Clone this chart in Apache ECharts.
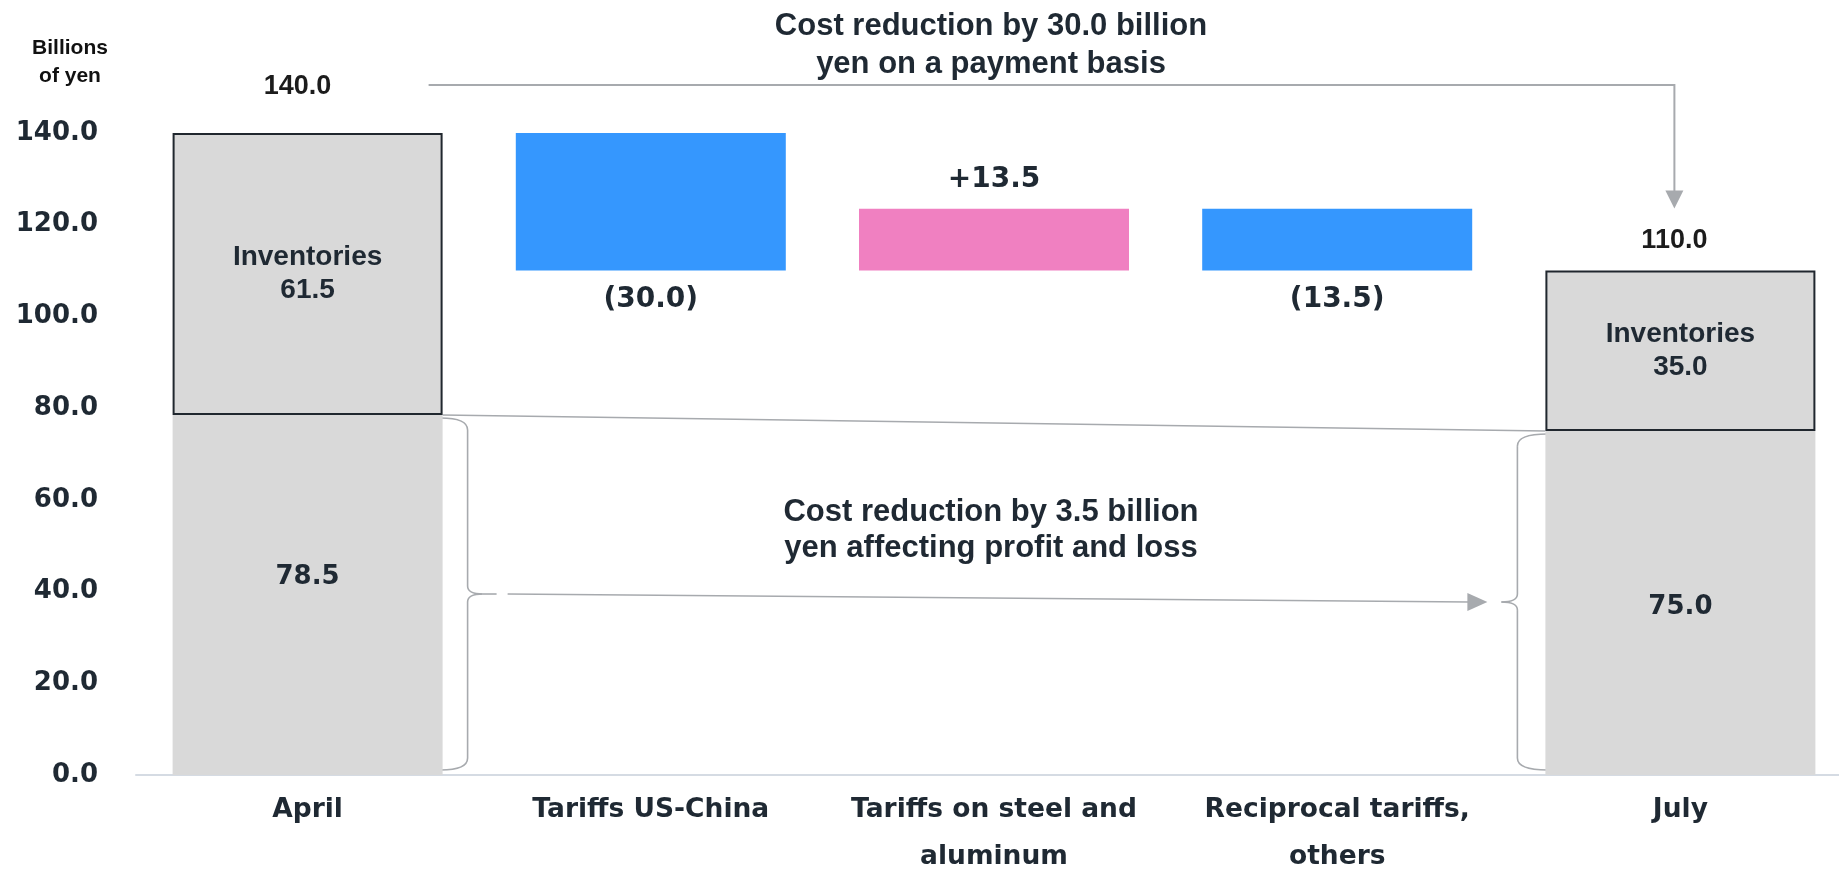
<!DOCTYPE html>
<html><head><meta charset="utf-8">
<script src="https://cdn.jsdelivr.net/npm/echarts@6/dist/echarts.min.js"></script>
<style>html,body{margin:0;padding:0;background:#fff}#c{width:1839px;height:875px}</style>
</head><body><div id="c"></div>
<script>
// ---- data ----
const categories = ['April', 'Tariffs US-China', 'Tariffs on steel and\naluminum', 'Reciprocal tariffs,\nothers', 'July'];
const yTickMin = 0, yTickMax = 140, yTickStep = 20;
const costPart = [78.5, null, null, null, 75.0];      // lower grey part
const inventories = [61.5, null, null, null, 35.0];   // boxed grey part
const changes = [null, -30.0, 13.5, -13.5, null];     // tariff effects
const totals = [140.0, null, null, null, 110.0];
const inventoryLabel = 'Inventories';
const unitLabel = 'Billions\nof yen';
const notePayment = 'Cost reduction by 30.0 billion\nyen on a payment basis';
const notePL = 'Cost reduction by 3.5 billion\nyen affecting profit and loss';

// ---- waterfall helpers ----
let running = totals[0];
const baseVals = [], decVals = [], incVals = [];
changes.forEach(c => {
  if (c == null) { baseVals.push(null); decVals.push(null); incVals.push(null); return; }
  if (c < 0) { running += c; baseVals.push(running); decVals.push(-c); incVals.push(null); }
  else { baseVals.push(running); incVals.push(c); decVals.push(null); running += c; }
});

const VER = "'DejaVu Sans', Verdana, sans-serif";
const ARI = "'Liberation Sans', Arial, sans-serif";
const TXT = '#1f2933';
const GREY = '#d9d9d9';
const LINE = '#a7aaae';
const BW = 270;

const totalLabelStyle = (dist, dx) => ({ show: true, position: 'top', distance: dist, offset: [dx, 0],
  formatter: p => '{t|' + p.value.toFixed(1) + '}',
  rich: { t: { fontFamily: ARI, fontWeight: 'bold', fontSize: 27, color: '#1c1c1c' } } });

const chart = echarts.init(document.getElementById('c'));
chart.setOption({
  animation: false,
  backgroundColor: '#fff',
  grid: { left: 136, top: 133, width: 1716, height: 642, containLabel: false, outerBoundsMode: 'none' },
  xAxis: {
    type: 'category', data: categories,
    axisLine: { lineStyle: { color: '#d5dbe3', width: 2 } },
    axisTick: { show: false },
    axisLabel: { interval: 0, margin: 12, fontFamily: VER, fontWeight: 'bold', fontSize: 26.5, lineHeight: 47, color: TXT, align: 'center', verticalAlign: 'top' }
  },
  yAxis: {
    type: 'value', min: yTickMin, max: yTickMax, interval: yTickStep,
    axisLine: { show: false }, axisTick: { show: false }, splitLine: { show: false },
    axisLabel: { margin: 38, fontFamily: VER, fontWeight: 'bold', fontSize: 26, color: TXT, formatter: v => v.toFixed(1) }
  },
  series: [
    { name: 'base', type: 'bar', stack: 'w', barWidth: BW, data: baseVals,
      itemStyle: { color: 'rgba(0,0,0,0)' }, silent: true },
    { name: 'cost', type: 'bar', stack: 'w', barWidth: BW, data: costPart,
      itemStyle: { color: GREY },
      label: { show: true, position: 'inside', fontFamily: VER, fontWeight: 'bold', fontSize: 26, color: TXT,
        formatter: p => p.value.toFixed(1) },
      labelLayout: p => p.dataIndex === 0 ? { dy: -18 } : { dy: 4 } },
    { name: 'inventories', type: 'bar', stack: 'w', barWidth: BW, data: inventories,
      itemStyle: { color: GREY, borderColor: '#20272e', borderWidth: 2 },
      label: { show: true, position: 'inside', fontFamily: ARI, fontWeight: 'bold', fontSize: 28, lineHeight: 33, color: TXT,
        formatter: p => inventoryLabel + '\n' + p.value.toFixed(1) } },
    { name: 'decrease', type: 'bar', stack: 'w', barWidth: BW, data: decVals,
      itemStyle: { color: '#3597fe' },
      label: { show: true, position: 'bottom', distance: 15, fontFamily: VER, fontWeight: 'bold', fontSize: 28, color: TXT,
        formatter: p => '(' + p.value.toFixed(1) + ')' } },
    { name: 'increase', type: 'bar', stack: 'w', barWidth: BW, data: incVals,
      itemStyle: { color: '#f080c1' },
      label: { show: true, position: 'top', distance: 15, fontFamily: VER, fontWeight: 'bold', fontSize: 28, color: TXT,
        formatter: p => '+' + p.value.toFixed(1) } },
    { name: 'total', type: 'scatter', symbolSize: 0, z: 10, silent: true,
      itemStyle: { opacity: 1, color: '#222222' },
      data: totals.map((v, i) => v == null ? null : { value: v, label: totalLabelStyle(i === 0 ? 33 : 17, i === 0 ? -10 : -6) }),
      label: totalLabelStyle(20, 0) }
  ]
});

// ---- annotations positioned from axis scales ----
const px = (i, v) => chart.convertToPixel({ seriesIndex: 1 }, [i, v]);
const [aX, aTop] = px(0, totals[0]);
const aMid = px(0, costPart[0])[1];
const zeroY = px(0, 0)[1];
const [jX, jTop] = px(4, totals[4]);
const jMid = px(4, costPart[4])[1];
const midX = px(2, 0)[0];
const half = BW / 2;

const ls = { stroke: LINE, lineWidth: 1.6, fill: null };
function brace(x0, x1, x2, yT, yB) {
  const yM = (yT + yB) / 2, r = 12, r2 = 8;
  return [
    { type: 'bezierCurve', shape: { x1: x0, y1: yT, cpx1: x1, cpy1: yT, x2: x1, y2: yT + r }, style: ls },
    { type: 'line', shape: { x1: x1, y1: yT + r, x2: x1, y2: yM - r2 }, style: ls },
    { type: 'bezierCurve', shape: { x1: x1, y1: yM - r2, cpx1: x1, cpy1: yM, x2: x2, y2: yM }, style: ls },
    { type: 'bezierCurve', shape: { x1: x2, y1: yM, cpx1: x1, cpy1: yM, x2: x1, y2: yM + r2 }, style: ls },
    { type: 'line', shape: { x1: x1, y1: yM + r2, x2: x1, y2: yB - r }, style: ls },
    { type: 'bezierCurve', shape: { x1: x1, y1: yB - r, cpx1: x1, cpy1: yB, x2: x0, y2: yB }, style: ls }
  ];
}
const aX0 = aX + half, aX2 = aX0 + 40;
const jX0 = jX - half, jX2 = jX0 - 44;
const aYM = (aMid + 3 + zeroY - 5) / 2, jYM = (jMid + 3 + zeroY - 5) / 2;
const tipX = jX2 - 14;
const arrowTopY = aTop - 48, arrowTipY = jTop - 62, arrowX = jX - 6;

chart.setOption({
  graphic: [
    { type: 'text', x: 70, y: 62, style: { text: unitLabel, fontFamily: ARI, fontWeight: 'bold', fontSize: 21, lineHeight: 28, fill: '#111', align: 'center', verticalAlign: 'middle' } },
    { type: 'text', x: midX - 3, y: 45, style: { text: notePayment, fontFamily: ARI, fontWeight: 'bold', fontSize: 31, lineHeight: 38, fill: TXT, align: 'center', verticalAlign: 'middle' } },
    { type: 'text', x: midX - 3, y: 530, style: { text: notePL, fontFamily: ARI, fontWeight: 'bold', fontSize: 31, lineHeight: 36, fill: TXT, align: 'center', verticalAlign: 'middle' } },
    { type: 'polyline', shape: { points: [[aX + 121, arrowTopY], [arrowX, arrowTopY], [arrowX, arrowTipY - 16]] }, style: { stroke: LINE, lineWidth: 2, fill: null } },
    { type: 'polygon', shape: { points: [[arrowX - 9, arrowTipY - 18], [arrowX + 9, arrowTipY - 18], [arrowX, arrowTipY]] }, style: { fill: LINE } },
    { type: 'line', shape: { x1: aX0, y1: aMid, x2: jX0, y2: jMid }, style: ls },
    ...brace(aX0 - 2, aX0 + 25, aX2, aMid + 3, zeroY - 5),
    ...brace(jX0 + 2, jX0 - 28, jX2, jMid + 3, zeroY - 5),
    { type: 'line', shape: { x1: aX2, y1: aYM, x2: aX2 + 14, y2: aYM }, style: ls },
    { type: 'line', shape: { x1: aX2 + 25, y1: aYM, x2: tipX - 18, y2: jYM }, style: ls },
    { type: 'polygon', shape: { points: [[tipX, jYM], [tipX - 20, jYM - 9], [tipX - 20, jYM + 9]] }, style: { fill: LINE } }
  ]
});
</script></body></html>
